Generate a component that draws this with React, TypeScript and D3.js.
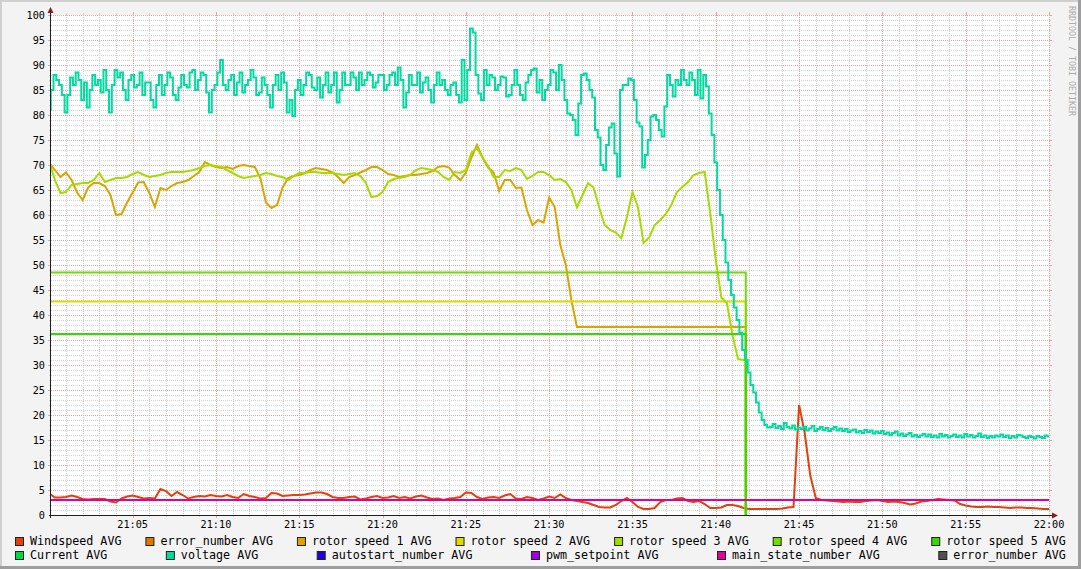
import React from "react";
import * as d3 from "d3";

// ---------- data ----------
// time in minutes after 21:00
const SAMPLE_STEP_MIN = 1 / 3; // 20 s samples
const VOLT_STEP_MIN = 1 / 6; // 10 s samples
const ROTOR_DROP_TIME = 41.8;

const windspeed = [
  4.3, 3.5, 3.5, 3.6, 3.9, 3.6, 3.2, 3.1, 3.2, 3.2,
  3.2, 2.7, 2.5, 3.3, 3.7, 3.9, 3.6, 3.3, 3.4, 3.3,
  5.2, 4.8, 3.8, 4.6, 4.0, 3.3, 3.6, 3.8, 3.7, 4.0,
  3.8, 3.7, 4.0, 3.6, 3.4, 4.2, 3.8, 3.6, 3.3, 3.4,
  4.4, 4.3, 3.8, 3.9, 4.0, 4.0, 4.1, 4.3, 4.5, 4.5,
  4.2, 3.6, 3.4, 3.4, 3.6, 3.7, 3.1, 3.3, 3.6, 3.8,
  3.4, 3.5, 3.8, 3.4, 3.6, 3.3, 3.7, 3.9, 3.5, 3.2,
  3.3, 3.0, 3.3, 3.4, 3.6, 4.5, 4.4, 3.6, 3.2, 3.5,
  3.6, 3.4, 3.9, 4.2, 3.3, 3.2, 3.6, 3.4, 3.0, 3.3,
  3.7, 3.4, 4.1, 3.4, 3.0, 2.8, 2.6, 2.4, 2.0, 1.6,
  1.5, 1.5, 2.0, 2.8, 3.4, 2.6, 1.6, 1.2, 1.2, 1.4,
  2.6, 3.0, 3.0, 3.3, 3.4, 2.8, 2.6, 2.8, 2.2, 1.4,
  1.4, 1.5, 2.0, 2.0, 1.8, 1.4, 1.2, 1.2, 1.2, 1.2,
  1.2, 1.2, 1.3, 1.5, 1.6, 22.0, 16.5, 8.0, 3.4, 3.0,
  2.9, 2.8, 2.7, 2.6, 2.7, 2.6, 2.6, 2.8, 2.9, 3.0,
  2.8, 2.6, 2.7, 2.6, 2.4, 2.1, 2.3, 2.7, 2.8, 3.0,
  3.2, 3.1, 3.0, 2.9, 2.2, 1.9, 1.7, 1.6, 1.6, 1.7,
  1.6, 1.6, 1.5, 1.4, 1.5, 1.5, 1.4, 1.4, 1.3, 1.2,
  1.2,
];

const voltage = [
  81, 85, 88, 87, 86, 84, 80.5, 84, 87.5, 86, 88.5, 87, 83, 86.5, 81.5, 85, 88, 86, 87, 84.5,
  89, 85, 80.5, 86, 89, 87.5, 88.5, 85, 83, 87, 88, 85.5, 86, 88.5, 84, 86.5, 86.5, 83, 81.5, 86,
  88, 84, 86, 88.5, 87.5, 84, 83, 85.5, 88, 86, 85.5, 88.5, 89, 85, 87, 88.5, 88, 84.5, 80.5, 85,
  86, 88.5, 91, 86, 85, 87, 88, 84, 86.5, 88.5, 84.5, 86, 87, 89, 87.5, 84, 84.5, 87.5, 86, 84,
  81.5, 86, 88, 85, 88.5, 86.5, 80.5, 83, 79.8, 85, 87, 84, 86, 88.5, 88, 85.5, 85, 87.5, 83.5, 86,
  88.5, 84.5, 86, 88.5, 82.5, 85, 88.5, 86, 86, 88.5, 87.5, 85, 88.5, 86, 87, 88.5, 88, 85.5, 86.5, 88,
  88, 85, 86, 88, 88.5, 86, 89.5, 87, 81.5, 84.5, 88, 86, 86, 88.5, 84.5, 86.5, 87.5, 85, 82.5, 86,
  88.5, 86, 87, 85, 84, 86, 86.5, 84, 82.5, 91, 83, 89, 97.3, 96.5, 88, 84.3, 83, 89, 86, 88,
  87.5, 85, 86, 87.7, 87.5, 83.7, 84, 86, 89, 86, 84, 83, 86.5, 88, 89, 89.3, 84.5, 87, 83, 85,
  86, 89, 88.5, 85, 90, 87, 83, 80.3, 80, 79, 76, 82.3, 88, 88.3, 87, 85, 83.5, 77, 75.5, 70,
  69, 74, 77.5, 78.3, 72.3, 67.7, 85, 86, 86, 87.3, 87, 83, 78.5, 77.7, 69.5, 72, 75, 79.7, 80, 79,
  77, 75.7, 81.7, 88, 86, 83.7, 87, 86, 89, 87, 86, 88.5, 87, 84, 89, 83.3, 88, 85.7, 80.3, 76,
  70.5, 65, 60, 55, 50.5, 47, 44, 41.5, 39, 36.5, 33, 31, 28.5, 26, 24.5, 22.5, 20.5, 19, 18, 17.5,
  17.6, 18.2, 17.4, 17.8, 17.2, 18.4, 17.6, 17.3, 17.9, 17.1, 17.5, 17.2, 17.6, 16.9, 17.3, 17.8, 16.8, 17.2, 17.6, 17.0,
  17.4, 16.8, 17.2, 17.6, 16.9, 17.3, 16.8, 17.2, 16.6, 16.9, 17.1, 16.5, 16.8, 16.4, 17.0, 16.6, 16.9, 16.3, 16.7, 16.4,
  16.8, 16.2, 16.5, 16.0, 16.4, 16.7, 15.9, 16.3, 15.8, 16.1, 16.4, 15.7, 16.0, 15.6, 15.9, 16.2, 15.7, 16.1, 15.6, 15.9,
  15.5, 16.2, 15.7, 16.0, 15.5, 15.8, 16.1, 15.6, 15.9, 15.5, 16.2, 15.7, 16.0, 15.5, 15.8, 16.3, 15.6, 15.9, 15.4, 15.8,
  15.5, 15.9, 15.7, 16.1, 15.6, 15.9, 15.4, 15.8, 15.5, 16.0, 15.9, 15.6, 15.4, 15.8, 15.6, 15.3, 15.8, 15.6, 15.4, 15.9,
  15.7,
];

const rotorSpeed1 = [
  70.4, 69, 67.6, 68.5, 67, 64.5, 63, 65.5, 66.4, 66.4,
  65.8, 64, 60, 60.2, 62.5, 64.5, 66.5, 66.6, 64.4, 61.6,
  65.4, 65, 65.8, 66.4, 66.6, 67, 67.8, 68.6, 70.6, 70,
  69.6, 69.4, 69.6, 69.2, 69.8, 70, 69.8, 69.6, 67.4, 62.5,
  61.4, 62, 65.5, 67.4, 67.8, 68, 68.4, 69, 69.4, 69.2,
  69, 68.5, 67.6, 66.4, 67.6, 68, 68.5, 69, 69.6, 69.6,
  69, 68.2, 68, 67.6, 67.8, 68, 68, 68.2, 68.4, 68.8,
  69.6, 69.8, 69.5, 68, 67, 68.5, 71.5, 74, 71.5, 69.5,
  68.5, 64.8, 67, 67, 65.4, 65.5, 61, 58, 59, 58.5,
  63.5, 61.6, 54, 50, 43, 37.6, 37.6, 37.6, 37.6, 37.6,
  37.6, 37.6, 37.6, 37.6, 37.6, 37.6, 37.6, 37.6, 37.6, 37.6,
  37.6, 37.6, 37.6, 37.6, 37.6, 37.6, 37.6, 37.6, 37.6, 37.6,
  37.6, 37.6, 37.6, 37.6, 37.6, 37.6,
];

const rotorSpeed3 = [
  70.6, 67, 64.4, 64.6, 66, 66.2, 66.4, 66.4, 67, 68.4,
  66.6, 67, 67.4, 67.4, 67.6, 68.2, 68.6, 68, 67.6, 67.8,
  68, 68.4, 68.6, 68.6, 68.6, 68.8, 69, 69.4, 69.8, 70,
  69.8, 69.6, 69, 68.4, 67.8, 67.4, 67.6, 67.8, 68, 68.4,
  68.2, 67.8, 67.6, 67, 67.8, 68.4, 68.4, 68.6, 68.6, 68.4,
  68.4, 68.4, 68.2, 68, 68.2, 68.4, 67.8, 66.4, 63.6, 63.8,
  64.6, 66.6, 67.2, 67.4, 67.6, 68, 69, 69.4, 69.2, 69,
  68.6, 67.6, 67, 68.6, 68.4, 69, 72.5, 73.4, 71.5, 69.8,
  67.6, 67.6, 69, 68.8, 69.4, 69, 67.2, 67.8, 68.6, 68.6,
  68, 67, 67.2, 66.6, 65, 61.5, 64, 66.4, 65.5, 61.5,
  58, 57, 56.5, 55.4, 59.6, 64.6, 61.5, 54.4, 55.5, 58,
  59, 60.2, 62, 64.6, 65.6, 66.6, 68, 68.4, 68.6, 60.4,
  51, 43.5, 42.4, 36, 31.2, 31,
];

// flat series: value held from each time (minutes) until the next
const flatTimes = [0, ROTOR_DROP_TIME];
const rotorSpeed2 = [42.7, 0];
const rotorSpeed4 = [48.5, 0];
const rotorSpeed5 = [36.2, 0];
const mainStateTimes = [0, 60];
const mainStateNumber = [3, 3];

const yTickValues = d3.range(0, 101, 5);
const xTickMinutes = [5, 10, 15, 20, 25, 30, 35, 40, 45, 50, 55, 60];
const xTickLabels = ["21:05", "21:10", "21:15", "21:20", "21:25", "21:30", "21:35", "21:40", "21:45", "21:50", "21:55", "22:00"];

const legendRow1 = [
  { label: "Windspeed AVG", color: "#e2400c" },
  { label: "error_number AVG", color: "#e07800" },
  { label: "rotor speed 1 AVG", color: "#dca400" },
  { label: "rotor speed 2 AVG", color: "#dcdc00" },
  { label: "rotor speed 3 AVG", color: "#a4dc00" },
  { label: "rotor speed 4 AVG", color: "#70dc00" },
  { label: "rotor speed 5 AVG", color: "#38d800" },
];
const legendRow2 = [
  { label: "Current AVG", color: "#00d840" },
  { label: "voltage AVG", color: "#00dca0" },
  { label: "autostart_number AVG", color: "#2000e0" },
  { label: "pwm_setpoint AVG", color: "#a000e0" },
  { label: "main_state_number AVG", color: "#e000a0" },
  { label: "error_number AVG", color: "#505050" },
];

// ---------- layout ----------
const W = 1081;
const H = 569;
const PL = 51;
const PR = 1049;
const PT = 15;
const PB = 515;
const MONO = "'DejaVu Sans Mono', monospace";

type Pt = { t: number; v: number };
function sampled(values: number[], step: number): Pt[] {
  return values.map((v, i) => ({ t: i * step, v }));
}
function timed(times: number[], values: number[]): Pt[] {
  return values.map((v, i) => ({ t: times[i], v }));
}
function withDrop(values: number[]): Pt[] {
  const pts = sampled(values, SAMPLE_STEP_MIN);
  const last = values[values.length - 1];
  return pts.concat([
    { t: ROTOR_DROP_TIME, v: last },
    { t: ROTOR_DROP_TIME, v: 0 },
  ]);
}

export default function App() {
  const x = d3.scaleLinear().domain([0.1, 60]).range([PL, PR]);
  const y = d3.scaleLinear().domain([0, 100]).range([PB, PT]);

  const mk = (curve: d3.CurveFactory) =>
    d3
      .line<Pt>()
      .x((d) => x(d.t))
      .y((d) => y(d.v))
      .curve(curve);
  const lineStep = mk(d3.curveStep);
  const lineLin = mk(d3.curveLinear);
  const lineAfter = mk(d3.curveStepAfter);

  const series = [
    { d: lineLin(sampled(windspeed, SAMPLE_STEP_MIN)), color: legendRow1[0].color },
    { d: lineLin(withDrop(rotorSpeed1)), color: legendRow1[2].color },
    { d: lineAfter(timed(flatTimes, rotorSpeed2)), color: legendRow1[3].color },
    { d: lineLin(withDrop(rotorSpeed3)), color: legendRow1[4].color },
    { d: lineAfter(timed(flatTimes, rotorSpeed4)), color: legendRow1[5].color },
    { d: lineAfter(timed(flatTimes, rotorSpeed5)), color: legendRow1[6].color },
    { d: lineStep(sampled(voltage, VOLT_STEP_MIN)), color: legendRow2[1].color },
    { d: lineAfter(timed(mainStateTimes, mainStateNumber)), color: legendRow2[4].color },
  ];

  const minorY = d3.range(1, 100).filter((v) => v % 5 !== 0);
  const majorY = d3.range(5, 101, 5);
  const minorX = d3.range(1, 60).filter((m) => m % 5 !== 0);
  const majorX = xTickMinutes;

  const px = (v: number) => Math.round(v) + 0.5;
  const minorColor = "#d2d2d2";
  const majorColor = "#e8a4a4";

  // legend layout (justified like rrdtool)
  const legendFont = 11.7;
  const charW = legendFont * 0.602;
  const legendLeft = 15;
  const legendRight = 1066;
  const layoutRow = (items: { label: string; color: string }[]) => {
    const widths = items.map((it) => 15 + it.label.length * charW);
    const total = d3.sum(widths);
    const gap = (legendRight - legendLeft - total) / (items.length - 1);
    let cx = legendLeft;
    return items.map((it, i) => {
      const pos = cx;
      cx += widths[i] + gap;
      return { ...it, x: pos };
    });
  };
  const row1 = layoutRow(legendRow1);
  const row2 = layoutRow(legendRow2);

  return (
    <div style={{ position: "absolute", left: 0, top: 0 }}>
      <svg width={W} height={H} xmlns="http://www.w3.org/2000/svg" style={{ display: "block" }}>
        <defs>
          <clipPath id="plotClip">
            <rect x={PL} y={0} width={PR - PL} height={PB + 1} />
          </clipPath>
        </defs>
        {/* background and shading */}
        <rect x={0} y={0} width={W} height={H} fill="#f3f3f3" />
        <line x1={0} y1={1} x2={W} y2={1} stroke="#cfcfcf" strokeWidth={2} />
        <line x1={1} y1={0} x2={1} y2={H} stroke="#cfcfcf" strokeWidth={2} />
        <line x1={0} y1={H - 1.5} x2={W} y2={H - 1.5} stroke="#9e9e9e" strokeWidth={3} />
        <line x1={W - 1.5} y1={0} x2={W - 1.5} y2={H} stroke="#9e9e9e" strokeWidth={3} />
        <rect x={PL} y={PT} width={PR - PL} height={PB - PT} fill="#ffffff" />

        {/* grid */}
        <g shapeRendering="crispEdges">
          {minorY.map((v) => (
            <g key={"my" + v}>
              <line x1={PL} x2={PR} y1={px(y(v))} y2={px(y(v))} stroke={minorColor} strokeDasharray="1,1" />
              <line x1={PL - 2} x2={PL} y1={px(y(v))} y2={px(y(v))} stroke={minorColor} />
              <line x1={PR} x2={PR + 2} y1={px(y(v))} y2={px(y(v))} stroke={minorColor} />
            </g>
          ))}
          {minorX.map((m) => (
            <g key={"mx" + m}>
              <line x1={px(x(m))} x2={px(x(m))} y1={PT} y2={PB} stroke={minorColor} strokeDasharray="1,1" />
              <line x1={px(x(m))} x2={px(x(m))} y1={PB} y2={PB + 2} stroke={minorColor} />
              <line x1={px(x(m))} x2={px(x(m))} y1={PT - 2} y2={PT} stroke={minorColor} />
            </g>
          ))}
          {majorY.map((v) => (
            <g key={"My" + v}>
              <line x1={PL} x2={PR} y1={px(y(v))} y2={px(y(v))} stroke={majorColor} strokeDasharray="1,1" />
              <line x1={PL - 3} x2={PL} y1={px(y(v))} y2={px(y(v))} stroke={majorColor} />
              <line x1={PR} x2={PR + 3} y1={px(y(v))} y2={px(y(v))} stroke={majorColor} />
            </g>
          ))}
          {majorX.map((m) => (
            <g key={"Mx" + m}>
              <line x1={px(x(m))} x2={px(x(m))} y1={PT} y2={PB} stroke={majorColor} strokeDasharray="1,1" />
              <line x1={px(x(m))} x2={px(x(m))} y1={PB} y2={PB + 3} stroke={majorColor} />
              <line x1={px(x(m))} x2={px(x(m))} y1={PT - 3} y2={PT} stroke={majorColor} />
            </g>
          ))}
        </g>

        {/* series */}
        <g clipPath="url(#plotClip)" fill="none" strokeWidth={2} strokeLinejoin="miter">
          {series.map((s, i) => (
            <path key={i} d={s.d || ""} stroke={s.color} />
          ))}
        </g>

        {/* axes */}
        <g shapeRendering="crispEdges">
          <line x1={PL - 0.5} x2={PL - 0.5} y1={PB + 3} y2={PT - 5} stroke="#1f1f1f" />
          <line x1={PL - 2} x2={PR + 4} y1={PB + 0.5} y2={PB + 0.5} stroke="#1f1f1f" />
        </g>
        <path d={`M${PL - 3.5},${PT - 2} L${PL + 2.5},${PT - 2} L${PL - 0.5},${PT - 8} Z`} fill="#7f1f1f" />
        <path d={`M${PR + 3},${PB - 2.5} L${PR + 3},${PB + 3.5} L${PR + 9},${PB + 0.5} Z`} fill="#7f1f1f" />

        {/* axis labels */}
        <g fontFamily={MONO} fontSize={10.2} fill="#000">
          {yTickValues.map((v) => (
            <text key={v} x={45} y={y(v)} dy="0.36em" textAnchor="end">
              {v}
            </text>
          ))}
          {xTickMinutes.map((m, i) => (
            <text key={m} x={x(m)} y={527.5} textAnchor="middle">
              {xTickLabels[i]}
            </text>
          ))}
        </g>

        {/* legend */}
        <g fontFamily={MONO} fontSize={legendFont} fill="#000">
          {row1.map((it) => (
            <g key={"l1" + it.label}>
              <rect x={it.x + 0.5} y={537.5} width={8} height={8} fill={it.color} stroke="#222" strokeWidth={1} />
              <text x={it.x + 15} y={545}>{it.label}</text>
            </g>
          ))}
          {row2.map((it) => (
            <g key={"l2" + it.label}>
              <rect x={it.x + 0.5} y={551.5} width={8} height={8} fill={it.color} stroke="#222" strokeWidth={1} />
              <text x={it.x + 15} y={559}>{it.label}</text>
            </g>
          ))}
        </g>

        {/* watermark */}
        <text
          transform="translate(1072,6) rotate(90)"
          fontFamily={MONO}
          fontSize={8.3}
          fill="#ababab"
          dy="0.35em"
        >
          RRDTOOL / TOBI OETIKER
        </text>
      </svg>
    </div>
  );
}
